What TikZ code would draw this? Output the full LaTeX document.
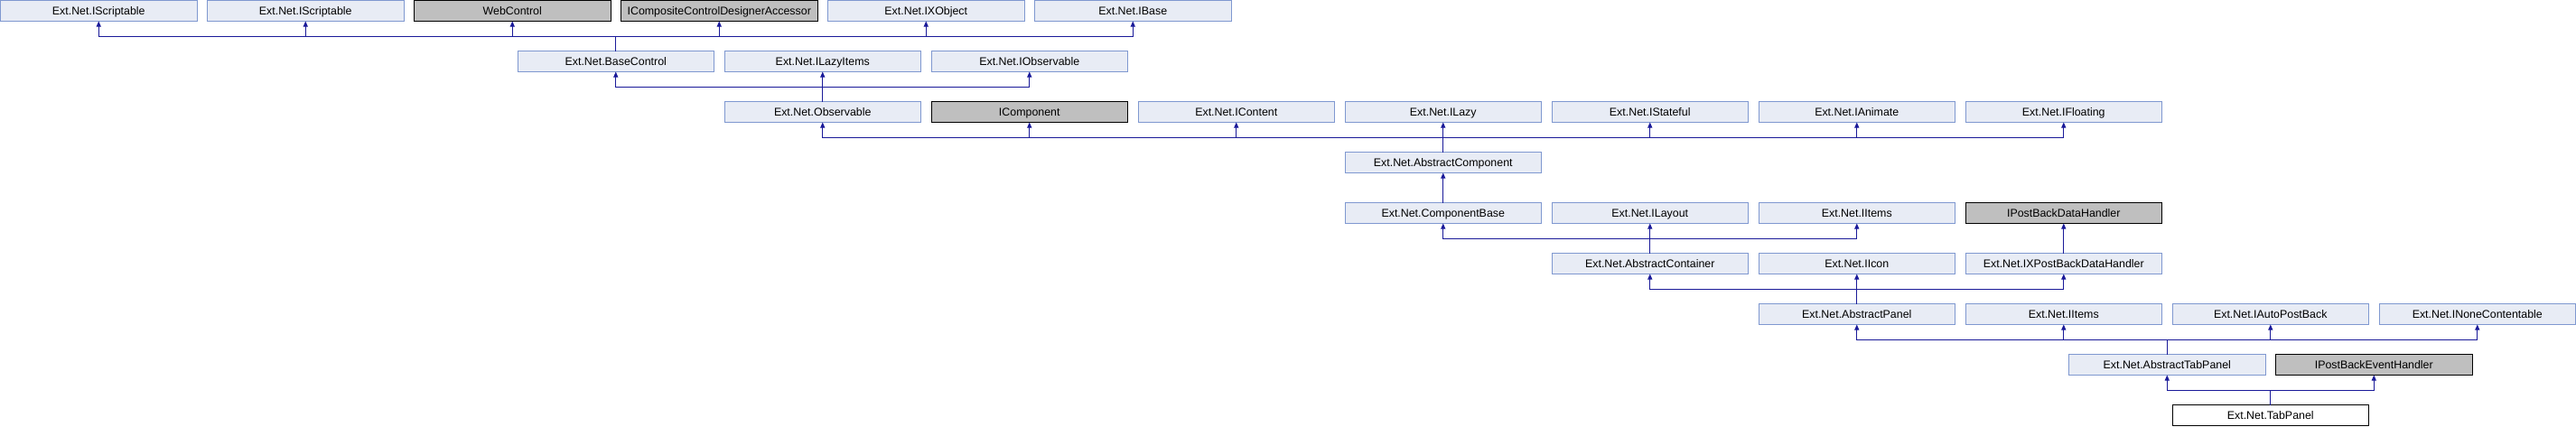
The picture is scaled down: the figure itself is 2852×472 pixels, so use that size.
\documentclass[tikz,border=0pt]{standalone}
\usepackage{fontspec}
\setmainfont{Liberation Sans}
\usepackage{tikz}
\usetikzlibrary{positioning, arrows.meta}

\definecolor{boxfill}{HTML}{E8ECF5}
\definecolor{boxline}{HTML}{7F98D0}
\definecolor{extfill}{HTML}{BFBFBF}
\definecolor{linkblue}{HTML}{1A1A99}

\begin{document}
\begin{tikzpicture}[x=114.5pt, y=-56pt,
  cls/.style={draw=boxline, fill=boxfill, line width=1pt, anchor=north west,
    minimum width=217.5pt, minimum height=23pt, inner sep=0pt, outer sep=0pt,
    text height=9pt, text depth=1pt, font=\fontsize{12.4}{14}\selectfont},
  extcls/.style={cls, draw=black, fill=extfill},
  maincls/.style={cls, draw=black, fill=white},
  inh/.style={draw=linkblue, line width=1pt, -{Triangle[length=6pt,width=5pt]}}]
\useasboundingbox (0pt,0pt) rectangle (2852pt,-472pt);

\begin{scope}[shift={(0.5pt,-0.5pt)}]
% row 0
\node[cls] (iscr1) at (0, 0){Ext.Net.IScriptable};
\node[cls] (iscr2) at (2, 0){Ext.Net.IScriptable};
\node[extcls] (webctl) at (4, 0){WebControl};
\node[extcls] (icdda) at (6, 0){ICompositeControlDesignerAccessor};
\node[cls] (ixobj) at (8, 0){Ext.Net.IXObject};
\node[cls] (ibase) at (10, 0){Ext.Net.IBase};
% row 1
\node[cls] (basectl) at (5, 1){Ext.Net.BaseControl};
\node[cls] (ilazyitems) at (7, 1){Ext.Net.ILazyItems};
\node[cls] (iobs) at (9, 1){Ext.Net.IObservable};
% row 2
\node[cls] (obs) at (7, 2){Ext.Net.Observable};
\node[extcls] (icomp) at (9, 2){IComponent};
\node[cls] (icontent) at (11, 2){Ext.Net.IContent};
\node[cls] (ilazy) at (13, 2){Ext.Net.ILazy};
\node[cls] (istate) at (15, 2){Ext.Net.IStateful};
\node[cls] (ianim) at (17, 2){Ext.Net.IAnimate};
\node[cls] (ifloat) at (19, 2){Ext.Net.IFloating};
% row 3
\node[cls] (abscomp) at (13, 3){Ext.Net.AbstractComponent};
% row 4
\node[cls] (compbase) at (13, 4){Ext.Net.ComponentBase};
\node[cls] (ilayout) at (15, 4){Ext.Net.ILayout};
\node[cls] (iitems1) at (17, 4){Ext.Net.IItems};
\node[extcls] (ipbdh) at (19, 4){IPostBackDataHandler};
% row 5
\node[cls] (abscont) at (15, 5){Ext.Net.AbstractContainer};
\node[cls] (iicon) at (17, 5){Ext.Net.IIcon};
\node[cls] (ixpbdh) at (19, 5){Ext.Net.IXPostBackDataHandler};
% row 6
\node[cls] (abspanel) at (17, 6){Ext.Net.AbstractPanel};
\node[cls] (iitems2) at (19, 6){Ext.Net.IItems};
\node[cls] (iautopb) at (21, 6){Ext.Net.IAutoPostBack};
\node[cls] (inone) at (23, 6){Ext.Net.INoneContentable};
% row 7
\node[cls] (abstab) at (20, 7){Ext.Net.AbstractTabPanel};
\node[extcls] (ipbeh) at (22, 7){IPostBackEventHandler};
% row 8
\node[maincls] (tabpanel) at (21, 8){Ext.Net.TabPanel};
\end{scope}

% inheritance links
\foreach \p in {iscr1, iscr2, webctl, icdda, ixobj, ibase}
  \draw[inh] (basectl.north) -- ++(0pt,16pt) -| (\p.south);
\foreach \p in {basectl, ilazyitems, iobs}
  \draw[inh] (obs.north) -- ++(0pt,16pt) -| (\p.south);
\foreach \p in {obs, icomp, icontent, ilazy, istate, ianim, ifloat}
  \draw[inh] (abscomp.north) -- ++(0pt,16pt) -| (\p.south);
\draw[inh] (compbase.north) -- (abscomp.south);
\foreach \p in {compbase, ilayout, iitems1}
  \draw[inh] (abscont.north) -- ++(0pt,16pt) -| (\p.south);
\draw[inh] (ixpbdh.north) -- (ipbdh.south);
\foreach \p in {abscont, iicon, ixpbdh}
  \draw[inh] (abspanel.north) -- ++(0pt,16pt) -| (\p.south);
\foreach \p in {abspanel, iitems2, iautopb, inone}
  \draw[inh] (abstab.north) -- ++(0pt,16pt) -| (\p.south);
\foreach \p in {abstab, ipbeh}
  \draw[inh] (tabpanel.north) -- ++(0pt,16pt) -| (\p.south);
\end{tikzpicture}
\end{document}
